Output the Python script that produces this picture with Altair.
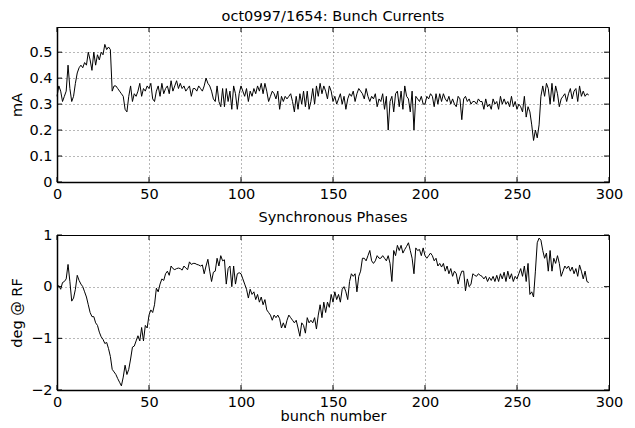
import altair as alt
import pandas as pd

# ---- data ----
bunch = list(range(290))

currents = [
    0.33, 0.37, 0.35, 0.31, 0.33, 0.35, 0.45, 0.36, 0.31, 0.33,
    0.38, 0.42, 0.44, 0.45, 0.44, 0.46, 0.45, 0.50, 0.47, 0.43,
    0.50, 0.45, 0.49, 0.47, 0.50, 0.49, 0.53, 0.51, 0.52, 0.51,
    0.35, 0.37, 0.37, 0.36, 0.35, 0.34, 0.33, 0.28, 0.27, 0.33,
    0.37, 0.31, 0.34, 0.33, 0.35, 0.38, 0.33, 0.36, 0.35, 0.37,
    0.36, 0.38, 0.32, 0.31, 0.35, 0.37, 0.33, 0.38, 0.34, 0.36,
    0.37, 0.34, 0.39, 0.35, 0.37, 0.39, 0.36, 0.38, 0.36, 0.37,
    0.35, 0.36, 0.37, 0.33, 0.36, 0.36, 0.35, 0.37, 0.36, 0.35,
    0.37, 0.40, 0.38, 0.37, 0.35, 0.32, 0.31, 0.37, 0.31, 0.29,
    0.36, 0.29, 0.36, 0.31, 0.35, 0.28, 0.37, 0.34, 0.28, 0.34,
    0.37, 0.35, 0.33, 0.36, 0.31, 0.35, 0.33, 0.36, 0.34, 0.37,
    0.35, 0.38, 0.34, 0.38, 0.35, 0.31, 0.33, 0.35, 0.34, 0.32,
    0.35, 0.28, 0.33, 0.31, 0.33, 0.32, 0.33, 0.34, 0.31, 0.27,
    0.33, 0.28, 0.34, 0.30, 0.35, 0.29, 0.35, 0.28, 0.31, 0.36,
    0.30, 0.37, 0.33, 0.38, 0.34, 0.37, 0.35, 0.32, 0.37, 0.35,
    0.31, 0.33, 0.30, 0.32, 0.34, 0.30, 0.33, 0.28, 0.32, 0.34,
    0.33, 0.35, 0.31, 0.34, 0.36, 0.35, 0.34, 0.32, 0.36, 0.33,
    0.31, 0.33, 0.32, 0.34, 0.29, 0.32, 0.31, 0.34, 0.28, 0.33,
    0.20, 0.31, 0.33, 0.27, 0.34, 0.35, 0.29, 0.35, 0.28, 0.37,
    0.33, 0.32, 0.27, 0.35, 0.20, 0.33, 0.32, 0.31, 0.33, 0.30,
    0.30, 0.33, 0.32, 0.34, 0.33, 0.29, 0.34, 0.30, 0.34, 0.31,
    0.34, 0.32, 0.31, 0.33, 0.30, 0.32, 0.30, 0.29, 0.33, 0.32,
    0.24, 0.32, 0.33, 0.31, 0.32, 0.30, 0.31, 0.31, 0.30, 0.32,
    0.31, 0.31, 0.28, 0.32, 0.29, 0.30, 0.28, 0.32, 0.30, 0.31,
    0.28, 0.33, 0.30, 0.32, 0.30, 0.31, 0.29, 0.33, 0.29, 0.31,
    0.28, 0.30, 0.29, 0.27, 0.33, 0.25, 0.29, 0.27, 0.22, 0.16,
    0.20, 0.17, 0.22, 0.33, 0.37, 0.33, 0.38, 0.36, 0.30, 0.38,
    0.31, 0.37, 0.34, 0.29, 0.32, 0.33, 0.34, 0.31, 0.34, 0.36,
    0.32, 0.35, 0.36, 0.31, 0.37, 0.33, 0.35, 0.33, 0.34, 0.335,
]

phases = [
    0.00, 0.02, -0.05, 0.08, 0.10, 0.15, 0.43, 0.10, -0.28, -0.22,
    -0.05, 0.22, 0.12, 0.05, 0.00, -0.10, -0.20, -0.35, -0.50, -0.58,
    -0.58, -0.70, -0.75, -0.88, -0.97, -1.02, -1.10, -1.08, -1.20, -1.35,
    -1.60, -1.65, -1.70, -1.78, -1.85, -1.92, -1.75, -1.52, -1.70, -1.60,
    -1.40, -1.17, -1.15, -1.05, -0.95, -1.05, -0.79, -1.05, -0.75, -0.80,
    -0.55, -0.45, -0.50, -0.35, -0.03, -0.10, 0.05, 0.15, 0.12, 0.25,
    0.30, 0.22, 0.40, 0.35, 0.33, 0.35, 0.36, 0.35, 0.32, 0.40,
    0.36, 0.33, 0.48, 0.43, 0.45, 0.45, 0.43, 0.42, 0.40, 0.42,
    0.25, 0.40, 0.53, 0.30, 0.10, 0.28, 0.30, 0.55, 0.40, 0.60,
    0.50, 0.52, 0.05, 0.35, 0.40, 0.00, 0.40, 0.05, 0.25, 0.27,
    0.25, 0.15, 0.05, -0.05, -0.22, -0.05, -0.15, -0.10, -0.25, -0.15,
    -0.30, -0.20, -0.35, -0.25, -0.45, -0.50, -0.55, -0.65, -0.55, -0.60,
    -0.55, -0.62, -0.80, -0.70, -0.80, -0.65, -0.55, -0.60, -0.65, -0.70,
    -0.65, -0.80, -0.96, -0.70, -0.75, -0.90, -0.60, -0.70, -0.65, -0.70,
    -0.60, -0.82, -0.55, -0.35, -0.60, -0.30, -0.50, -0.30, -0.40, -0.15,
    -0.30, -0.10, -0.25, -0.15, -0.30, -0.05, 0.00, -0.10, -0.25, 0.10,
    0.25, 0.20, 0.25, -0.10, 0.20, 0.30, 0.55, 0.55, 0.50, 0.60,
    0.70, 0.50, 0.45, 0.50, 0.60, 0.55, 0.55, 0.60, 0.55, 0.50,
    0.60, 0.45, 0.10, 0.70, 0.60, 0.80, 0.70, 0.80, 0.65, 0.72,
    0.78, 0.85, 0.70, 0.55, 0.25, 0.75, 0.70, 0.72, 0.60, 0.75,
    0.60, 0.55, 0.60, 0.65, 0.60, 0.50, 0.55, 0.40, 0.45, 0.38,
    0.45, 0.30, 0.40, 0.25, 0.35, 0.20, 0.30, 0.25, 0.05, 0.20,
    0.30, 0.30, -0.08, 0.15, 0.00, 0.05, 0.25, 0.22, 0.20, 0.25,
    0.22, 0.20, 0.15, 0.20, 0.10, 0.18, 0.12, 0.20, 0.10, 0.22,
    0.10, 0.25, 0.15, 0.28, 0.10, 0.30, 0.15, 0.25, 0.10, 0.20,
    0.15, 0.25, 0.35, 0.20, 0.40, 0.10, 0.45, -0.15, -0.10, -0.20,
    0.30, 0.85, 0.94, 0.90, 0.70, 0.55, 0.65, 0.30, 0.70, 0.30,
    0.55, 0.45, 0.60, 0.45, 0.20, 0.30, 0.40, 0.35, 0.40, 0.30,
    0.38, 0.25, 0.35, 0.20, 0.42, 0.30, 0.15, 0.30, 0.10, 0.08,
]

x_ticks = [0, 50, 100, 150, 200, 250, 300]
current_ticks = [0, 0.1, 0.2, 0.3, 0.4, 0.5]
phase_ticks = [-2, -1, 0, 1]

top_title = "oct0997/1654: Bunch Currents"
bottom_title = "Synchronous Phases"
x_title = "bunch number"
top_ytitle = "mA"
bottom_ytitle = "deg @ RF"

# ---- layout / style ----
W, H = 552, 155
TICK = 5
FONT = "DejaVu Sans"

df = pd.DataFrame({"bunch": bunch, "current": currents, "phase": phases})
xt = pd.DataFrame({"t": x_ticks})


def panel(field, title, ytitle, ydomain, yticks, xtitle):
    xscale = alt.Scale(domain=[0, 300], nice=False, zero=False)
    yscale = alt.Scale(domain=ydomain, nice=False, zero=False)
    xaxis = alt.Axis(values=x_ticks, title=xtitle, labelFlush=False,
                     labelOverlap=False, format="~r")
    yaxis = alt.Axis(values=yticks, title=ytitle, labelOverlap=False,
                     format="~r", titleX=-40, titleBaseline="middle")
    line = alt.Chart(df).mark_line(color="black", strokeWidth=1).encode(
        x=alt.X("bunch:Q", scale=xscale, axis=xaxis),
        y=alt.Y(f"{field}:Q", scale=yscale, axis=yaxis),
    )
    yt = pd.DataFrame({"t": yticks})
    rule_kw = dict(color="black", strokeWidth=1)
    xb = alt.Chart(xt).mark_rule(**rule_kw).encode(
        x=alt.X("t:Q", scale=xscale, axis=xaxis),
        y=alt.value(H), y2=alt.value(H - TICK))
    xtp = alt.Chart(xt).mark_rule(**rule_kw).encode(
        x=alt.X("t:Q", scale=xscale, axis=xaxis),
        y=alt.value(0), y2=alt.value(TICK))
    yl = alt.Chart(yt).mark_rule(**rule_kw).encode(
        y=alt.Y("t:Q", scale=yscale, axis=yaxis),
        x=alt.value(0), x2=alt.value(TICK))
    yr = alt.Chart(yt).mark_rule(**rule_kw).encode(
        y=alt.Y("t:Q", scale=yscale, axis=yaxis),
        x=alt.value(W), x2=alt.value(W - TICK))
    return alt.layer(line, xb, xtp, yl, yr).properties(
        width=W, height=H,
        title=alt.TitleParams(title, font=FONT, fontSize=14.5,
                              fontWeight="normal", offset=2, color="black"),
    )


top = panel("current", top_title, top_ytitle, [0, 0.597], current_ticks, None)
bottom = panel("phase", bottom_title, bottom_ytitle, [-2, 1], phase_ticks, x_title)

chart = alt.vconcat(top, bottom, spacing=8).properties(
    padding={"left": 0, "top": 0, "right": 0, "bottom": 0},
    background="white",
).configure_view(
    stroke="black", strokeWidth=1
).configure_axis(
    labelFont=FONT, labelFontSize=14.5, labelColor="black",
    titleFont=FONT, titleFontSize=14.5, titleFontWeight="normal", titleColor="black",
    ticks=False, labelPadding=5, titlePadding=1,
    domainColor="black", domainWidth=1.5,
    grid=True, gridColor="#000000", gridDash=[1, 3], gridWidth=0.8, gridOpacity=0.7,
)

chart.save("out.html", embed_options={"renderer": "svg", "actions": False})
